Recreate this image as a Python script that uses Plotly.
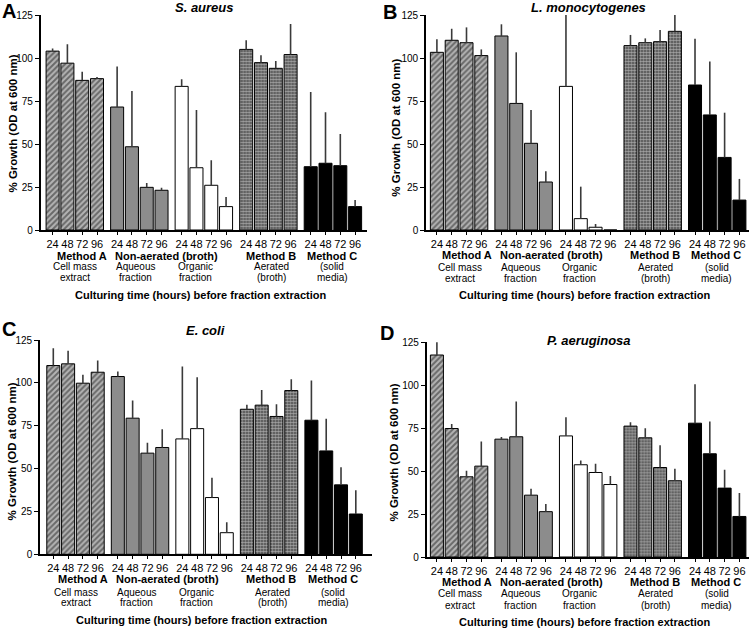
import plotly.graph_objects as go

# ---------------- data ----------------
hours = ["24", "48", "72", "96"]
group_names = ["Method A", "Aqueous", "Organic", "Method B", "Method C"]
panel_letters = ["A", "B", "C", "D"]
organisms = ["S. aureus", "L. monocytogenes", "E. coli", "P. aeruginosa"]

# % growth per group (Method A, Aqueous, Organic, Method B, Method C) x hours
s_aureus_growth = [[104, 97, 87, 88], [71.5, 48.4, 24.8, 23.1], [83.5, 36.2, 26, 13.6],
                   [105, 97.3, 94, 102], [36.8, 38.8, 37.4, 13.6]]
s_aureus_sd = [[1.5, 11, 5, 1], [23.5, 32.4, 2.5, 1.5], [4.1, 33.6, 14.5, 5.6],
               [5.3, 4.3, 4.3, 17.8], [43.4, 29.6, 18.4, 3.8]]

l_mono_growth = [[103.3, 110.3, 108.9, 101.4], [112.8, 73.6, 50.4, 27.9], [83.5, 6.6, 1.6, 0],
                 [107.2, 108.9, 109.5, 115.5], [84.3, 66.9, 42.2, 17.4]]
l_mono_sd = [[7.6, 6.7, 8.9, 3.6], [6.8, 29.7, 19.4, 6.2], [41.5, 18.6, 1.9, 0],
             [6.2, 2.5, 6.8, 10.5], [26.9, 31.1, 26, 12.3]]

e_coli_growth = [[110.1, 111.1, 99.8, 106.2], [103.7, 79.4, 59, 62.3], [67.3, 73.3, 33.1, 12.6],
                 [84.6, 87, 80.4, 95.5], [78.2, 60.3, 40.5, 23.5]]
e_coli_sd = [[10.1, 7.6, 4.9, 6.8], [2.9, 10.3, 6, 10.7], [42.2, 30, 11.6, 6.1],
             [2.6, 8.9, 7.1, 6.6], [23.2, 18.7, 10.3, 13.9]]

p_aer_growth = [[117.6, 74.8, 46.7, 52.9], [68.6, 70, 36, 26.4], [70.5, 53.7, 49.2, 42.2],
                [76.2, 69.4, 52.1, 44.4], [77.9, 60.1, 40.1, 23.6]]
p_aer_sd = [[7.8, 2.7, 3.5, 14.3], [1.2, 20.5, 3.7, 4.4], [10.9, 2.5, 5.1, 4.9],
            [2.3, 5.6, 13, 7], [22.7, 18.8, 10.7, 13.6]]

y_ticks = [0, 25, 50, 75, 100, 125]

# ---------------- layout geometry ----------------
W, H = 752, 630
FONT = "Arial, Liberation Sans, sans-serif"
U = 14.8          # px per bar unit
GSTEP = 4.36      # group spacing in bar units

# px: (axis left, axis right, y of 125, y of 0, first bar center)
geom = [
    (40.7, 366.7, 15.0, 230.0, 52.6),
    (426.0, 749.0, 15.0, 230.0, 436.9),
    (40.0, 372.0, 340.0, 554.3, 53.3),
    (426.7, 749.0, 342.3, 557.0, 436.9),
]

styles = [
    dict(color="#a8a8a8", pattern=dict(shape="/", fgcolor="#1e1e1e", bgcolor="#b4b4b4", size=4, solidity=0.5)),
    dict(color="#8c8c8c"),
    dict(color="#ffffff"),
    dict(color="#909090", pattern=dict(shape=".", fgcolor="#f8f8f8", bgcolor="#444444", size=3, solidity=0.62)),
    dict(color="#000000"),
]

growths = [s_aureus_growth, l_mono_growth, e_coli_growth, p_aer_growth]
sds = [s_aureus_sd, l_mono_sd, e_coli_sd, p_aer_sd]


def px(p):
    return p / W


def py(p):
    return 1 - p / H


fig = go.Figure()
annotations = []
layout = {}

# label rows (y px): method line, sub line 1, sub line 2, culturing line
label_rows = [
    (255.5, 266.8, 277.8, 295.0),
    (255.0, 267.0, 278.0, 295.0),
    (579.0, 592.0, 602.5, 620.0),
    (582.0, 593.5, 605.0, 622.0),
]
title_y = [8.0, 8.0, 330.0, 340.0]
ytitle_pos = [(13, 123.5), (395.7, 128), (11.7, 451.7), (393.5, 453)]
letter_pos = [(9, 11), (390, 12), (9, 329), (387, 333)]

for k in range(4):
    L, R, ytop, ybot, c0 = geom[k]
    n = "" if k == 0 else str(k + 1)
    xa, ya = "x" + n, "y" + n
    tickvals, ticktext = [], []
    for g in range(5):
        xs = [g * GSTEP + i for i in range(4)]
        tickvals += xs
        ticktext += hours
        st = styles[g]
        marker = dict(color=st["color"], line=dict(color="#000000", width=1))
        if "pattern" in st:
            marker["pattern"] = st["pattern"]
        fig.add_trace(go.Bar(
            x=xs, y=growths[k][g], width=0.88, marker=marker,
            error_y=dict(type="data", symmetric=False, array=sds[k][g], arrayminus=[0] * 4,
                         color="#3a3a3a", thickness=1.6, width=0),
            xaxis=xa, yaxis=ya, showlegend=False, cliponaxis=False,
        ))
    layout["xaxis" + n] = dict(
        domain=[px(L), px(R)], range=[(L - c0) / U, (R - c0) / U], anchor=ya,
        tickvals=tickvals, ticktext=ticktext, ticks="outside", ticklen=3, tickwidth=1.2,
        tickcolor="#000", showline=True, linecolor="#000", linewidth=1.6, automargin=False,
        showgrid=False, zeroline=False, tickfont=dict(family=FONT, size=11, color="#000"),
    )
    layout["yaxis" + n] = dict(
        domain=[py(ybot), py(ytop)], range=[0, 125], anchor=xa, automargin=False,
        tickvals=y_ticks, ticks="outside", ticklen=4, tickwidth=1.4, tickcolor="#000",
        showline=True, linecolor="#000", linewidth=1.6, showgrid=False, zeroline=False,
        tickfont=dict(family=FONT, size=10, color="#000"),
    )

    r1, r2, r3, r4 = label_rows[k]

    def ann(text, x, y, size=11, xanchor="center", xref=xa, **kw):
        annotations.append(dict(text=text, x=x, y=py(y), xref=xref, yref="paper",
                                xanchor=xanchor, yanchor="middle", showarrow=False,
                                font=dict(family=FONT, size=size, color="#000"), **kw))

    ann("<b>Method A</b>", 3.83, r1, xanchor="right")
    ann("<b>Non-aerated (broth)</b>", 4.1, r1, xanchor="left")
    ann("<b>Method B</b>", 14.73, r1)
    ann("<b>Method C</b>", 18.87, r1)
    for txt1, txt2, xc in [("Cell mass", "extract", 1.54), ("Aqueous", "fraction", 5.63),
                           ("Organic", "fraction", 9.65), ("Aerated", "(broth)", 14.8),
                           ("(solid", "media)", 18.9)]:
        ann(txt1, xc, r2, size=10)
        ann(txt2, xc, r3, size=10)
    ann("<b>Culturing time (hours) before fraction extraction</b>", 10.0, r4)
    ann("<b><i>" + organisms[k] + "</i></b>", 10.25, title_y[k], size=13)

    tx, tyy = ytitle_pos[k]
    annotations.append(dict(text="<b>% Growth (OD at 600 nm)</b>", x=px(tx), y=py(tyy),
                            xref="paper", yref="paper", textangle=-90, showarrow=False,
                            xanchor="center", yanchor="middle",
                            font=dict(family=FONT, size=11.5, color="#000")))
    lx, ly = letter_pos[k]
    annotations.append(dict(text="<b>" + panel_letters[k] + "</b>", x=px(lx), y=py(ly),
                            xref="paper", yref="paper", showarrow=False,
                            xanchor="center", yanchor="middle",
                            font=dict(family=FONT, size=20, color="#000")))

fig.update_layout(
    width=W, height=H, margin=dict(l=0, r=0, t=0, b=0, autoexpand=False),
    paper_bgcolor="white", plot_bgcolor="white",
    annotations=annotations, barmode="overlay", **layout,
)

# remove the default 8px page margin so the figure fills the window exactly
fig.write_html("out.html", config={"displayModeBar": False},
               post_script="document.body.style.margin='0px';")
